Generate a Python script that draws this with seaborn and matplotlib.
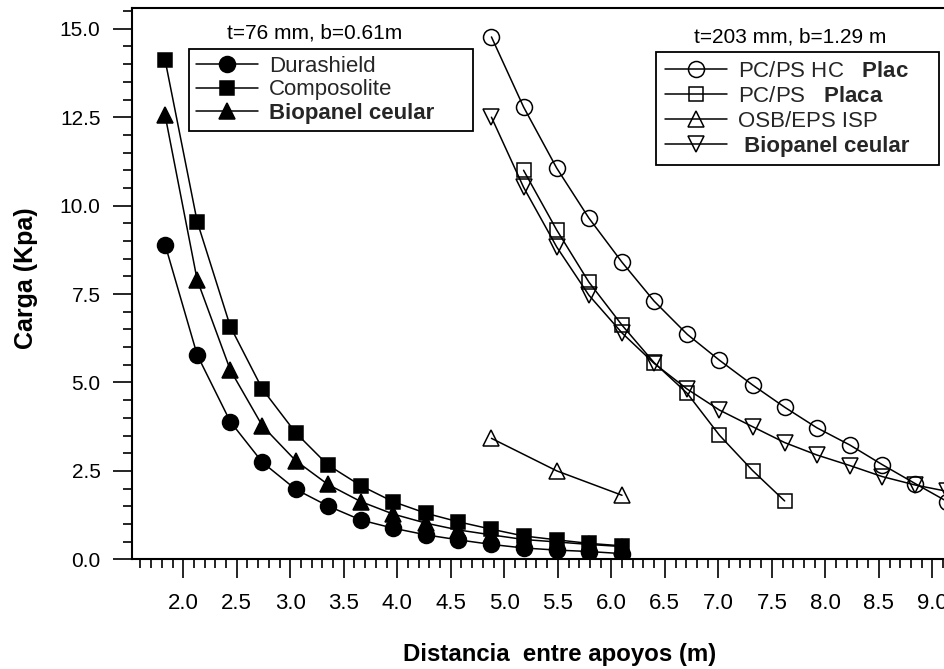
import matplotlib
matplotlib.use("Agg")
import matplotlib.pyplot as plt
import seaborn as sns
import numpy as np
import pandas as pd
from matplotlib.ticker import MultipleLocator, FormatStrFormatter

# ---------------- data ----------------
x_76 = [1.83, 2.13, 2.44, 2.74, 3.05, 3.35, 3.66, 3.96, 4.27, 4.57, 4.88, 5.18, 5.49, 5.79, 6.10]
durashield = [8.90, 5.78, 3.89, 2.74, 1.98, 1.51, 1.11, 0.88, 0.69, 0.55, 0.42, 0.32, 0.26, 0.22, 0.16]
composolite = [14.12, 9.55, 6.58, 4.81, 3.58, 2.67, 2.08, 1.63, 1.30, 1.06, 0.85, 0.66, 0.55, 0.45, 0.38]
biopanel_76 = [12.56, 7.90, 5.35, 3.77, 2.79, 2.12, 1.63, 1.28, 1.02, 0.83, 0.69, 0.56, 0.49, 0.42, 0.36]

x_203 = [4.88, 5.18, 5.49, 5.79, 6.10, 6.40, 6.71, 7.01, 7.32, 7.62, 7.92, 8.23, 8.53, 8.84, 9.14]
pcps_hc = [14.77, 12.79, 11.06, 9.65, 8.40, 7.30, 6.36, 5.63, 4.93, 4.30, 3.72, 3.23, 2.68, 2.14, 1.63]
biopanel_203 = [12.50, 10.52, 8.83, 7.47, 6.40, 5.54, 4.81, 4.22, 3.75, 3.30, 2.95, 2.65, 2.34, 2.10, 1.92]

x_pcps = [5.18, 5.49, 5.79, 6.10, 6.40, 6.71, 7.01, 7.32, 7.62]
pcps = [11.00, 9.31, 7.84, 6.62, 5.56, 4.69, 3.51, 2.51, 1.65]

x_osb = [4.88, 5.49, 6.10]
osb_eps = [3.42, 2.50, 1.81]

labels_76 = ["Durashield", "Composolite", "Biopanel ceular"]
labels_203 = [r"PC/PS HC   $\mathbf{Plac}$", r"PC/PS   $\mathbf{Placa}$", "OSB/EPS ISP", " Biopanel ceular"]
title_76 = "t=76 mm, b=0.61m"
title_203 = "t=203 mm, b=1.29 m"
xlabel = "Distancia  entre apoyos (m)"
ylabel = "Carga (Kpa)"

# ---------------- style ----------------
sns.set_theme(style="ticks")
plt.rcParams["font.family"] = ["Liberation Sans", "DejaVu Sans"]
plt.rcParams["mathtext.fontset"] = "custom"
plt.rcParams["mathtext.rm"] = "Liberation Sans"
plt.rcParams["mathtext.bf"] = "Liberation Sans:bold"

fig = plt.figure(figsize=(9.44, 6.69), dpi=100)
ax = fig.add_axes([0.1395, 0.164, 0.8605, 0.8236])

lw = 1.1
mew = 1.1
series = [
    (x_76, durashield, "o", 11.5, "black"),
    (x_76, composolite, "s", 10, "black"),
    (x_76, biopanel_76, "^", 11.5, "black"),
    (x_203, pcps_hc, "o", 11.5, "none"),
    (x_pcps, pcps, "s", 10, "none"),
    (x_osb, osb_eps, "^", 11, "none"),
    (x_203, biopanel_203, "v", 11, "none"),
]
handles = []
for xs, ys, mk, ms, fc in series:
    df = pd.DataFrame({"x": xs, "y": ys})
    n_before = len(ax.get_lines())
    sns.lineplot(data=df, x="x", y="y", ax=ax, color="black", lw=lw,
                 marker=mk, markersize=ms, markerfacecolor=fc,
                 markeredgecolor="black", markeredgewidth=mew, legend=False)
    handles.append(ax.get_lines()[n_before])

ax.set_xlim(1.518, 9.109)
ax.set_ylim(0, 15.58)
ax.xaxis.set_major_locator(MultipleLocator(0.5))
ax.xaxis.set_minor_locator(MultipleLocator(0.1))
ax.yaxis.set_major_locator(MultipleLocator(2.5))
ax.yaxis.set_minor_locator(MultipleLocator(0.5))
ax.xaxis.set_major_formatter(FormatStrFormatter("%.1f"))
ax.yaxis.set_major_formatter(FormatStrFormatter("%.1f"))

for s in ["left", "top", "bottom"]:
    ax.spines[s].set_linewidth(1.5)
    ax.spines[s].set_color("black")
ax.spines["right"].set_visible(False)

ax.tick_params(axis="both", which="both", direction="out", color="black", width=1.2)
ax.tick_params(axis="y", which="major", length=13.5, pad=9, labelsize=15)
ax.tick_params(axis="y", which="minor", length=6.2)
ax.tick_params(axis="x", which="major", length=13.5, pad=11, labelsize=16)
ax.tick_params(axis="x", which="minor", length=6.2)
ax.tick_params(top=False, right=False, which="both")
for t in ax.get_xticklabels() + ax.get_yticklabels():
    t.set_color("black")

ax.set_ylabel(ylabel, fontsize=18, fontweight="bold", color="black")
ax.yaxis.set_label_coords(-0.1153, 0.51)
ax.set_xlabel(xlabel, fontsize=17.3, fontweight="bold", color="black")
ax.xaxis.set_label_coords(0.527, -0.152)

ax.text(0.2257, 0.955, title_76, transform=ax.transAxes, ha="center", va="center",
        fontsize=15, color="black")
ax.text(0.8104, 0.948, title_203, transform=ax.transAxes, ha="center", va="center",
        fontsize=15, color="black")

leg1 = ax.legend(handles[:3], labels_76, loc="upper left",
                 bbox_to_anchor=(0.0705, 0.7519, 0.3496, 0.1742), mode="expand",
                 borderaxespad=0, fontsize=16, frameon=True, fancybox=False,
                 edgecolor="black", framealpha=1, handlelength=2.8,
                 handletextpad=0.5, labelspacing=0.12, borderpad=0.3)
leg1.get_frame().set_linewidth(1.3)
leg1.get_texts()[2].set_fontweight("bold")
ax.add_artist(leg1)

leg2 = ax.legend(handles[3:], labels_203, loc="upper left",
                 bbox_to_anchor=(0.6451, 0.6853, 0.3491, 0.2359), mode="expand",
                 borderaxespad=0, fontsize=16, frameon=True, fancybox=False,
                 edgecolor="black", framealpha=1, handlelength=2.8,
                 handletextpad=0.5, labelspacing=0.18, borderpad=0.4)
leg2.get_frame().set_linewidth(1.3)
leg2.get_texts()[3].set_fontweight("bold")

fig.savefig("out.png", dpi=100)
